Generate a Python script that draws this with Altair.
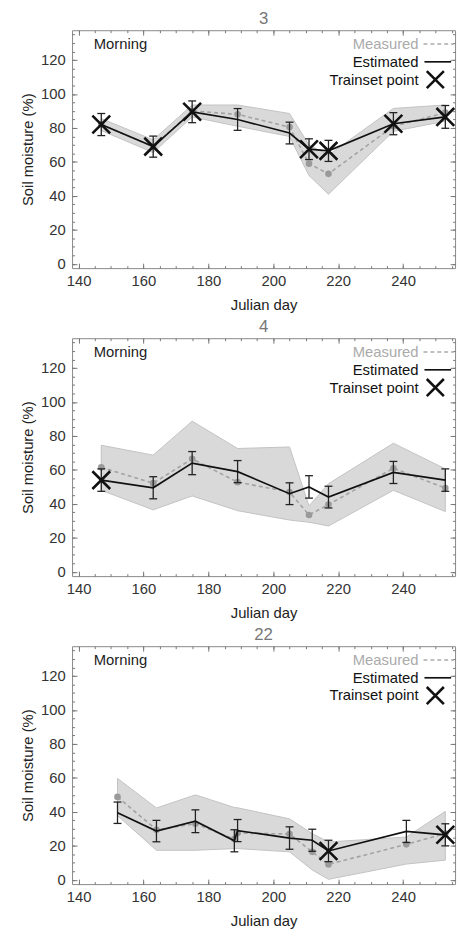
import altair as alt
import pandas as pd

# ---------------- data ----------------
sites = ["3", "4", "22"]

days_3 = [147, 163, 175, 189, 205, 211, 217, 237, 253]
meas_3 = [82, 69, 90, 88, 80.5, 59, 53, 81, 89]
est_3 = [82, 69, 89.5, 85, 77, 67.5, 66.5, 82.5, 86.5]
err_3 = [6.5, 6.2, 6.4, 6.4, 6.4, 6.1, 6.2, 6.5, 6.7]
lo_3 = [78.5, 65.5, 86.5, 81, 75, 52, 41, 78, 84]
hi_3 = [85.5, 73, 93.5, 93.5, 88.5, 70, 64, 91.5, 93.5]
train_3 = [1, 1, 1, 0, 0, 1, 1, 1, 1]

days_4 = [147, 163, 175, 189, 205, 211, 217, 237, 253]
meas_4 = [61.5, 52.2, 66.5, 52.8, 47, 33.5, 39.6, 61, 49.3]
est_4 = [54, 49.5, 64, 59, 46, 50, 44, 58.5, 54]
err_4 = [6.6, 6.5, 6.8, 6.5, 6.4, 6.6, 6.4, 6.5, 6.6]
lo_4 = [48, 36.5, 44.7, 36, 30.5, 29.2, 27, 48, 35.5]
hi_4 = [74.5, 68.7, 88.7, 72.6, 73.5, 38.8, 51.9, 75.7, 60.6]
train_4 = [1, 0, 0, 0, 0, 0, 0, 0, 0]

days_22 = [152, 164, 176, 188, 189, 205, 212, 217, 241, 253]
meas_22 = [48.8, 29.5, 33, 24, 27.5, 27, 16.5, 9.1, 20.9, 27.3]
est_22 = [39.5, 28.7, 34.5, 23, 29, 24.6, 23.3, 17, 28.5, 26.5]
err_22 = [6.3, 6.3, 6.7, 6.5, 6.5, 6.6, 6.5, 6.3, 6.5, 6.5]
lo_22 = [37.8, 17.4, 17.4, 18.4, 18.4, 16.5, 5.8, 0.3, 9.3, 11.6]
hi_22 = [59.7, 42.3, 50, 42.6, 42.4, 35.9, 27.2, 22.3, 25.2, 40.3]
train_22 = [0, 0, 0, 0, 0, 0, 0, 1, 0, 1]

x_ticks = [140, 160, 180, 200, 220, 240]
x_minor = list(range(140, 256, 5))
y_ticks = [0, 20, 40, 60, 80, 100, 120]
y_minor = list(range(0, 136, 5))
legend_labels = ["Measured", "Estimated", "Trainset point"]
period_label = "Morning"

# ---------------- styling ----------------
XDOM = [138, 256]
YDOM = [-2.5, 137.5]
W, H = 388, 241
X_PATH = "M-1,-1L1,1M-1,1L1,-1"
FONT = "Liberation Sans"
TICK = "#777"


def tick_axis(orient, values, size):
    return alt.Axis(
        orient=orient, values=values, offset=-size, tickSize=size, domain=False,
        grid=False, labels=False, title="", tickColor=TICK, tickWidth=1,
    )


def panel(name, days, meas, est, err, lo, hi, train):
    df = pd.DataFrame({
        "day": days, "meas": meas, "est": est, "lo": lo, "hi": hi,
        "elo": [e - r for e, r in zip(est, err)],
        "ehi": [e + r for e, r in zip(est, err)],
        "train": train,
    })
    base = alt.Chart(df)
    xscale = alt.Scale(domain=XDOM, nice=False, zero=False)
    yscale = alt.Scale(domain=YDOM, nice=False, zero=False)
    xaxis = alt.Axis(
        values=x_ticks, title="Julian day", offset=-5, tickSize=5,
        domain=False, grid=False, labelPadding=6, titlePadding=9,
        labelFontSize=15, titleFontSize=15, labelColor="#333",
        titleColor="#222", titleFontWeight="normal", tickColor=TICK,
        labelFont=FONT, titleFont=FONT,
    )
    yaxis = alt.Axis(
        values=y_ticks, title="Soil moisture (%)", offset=-5, tickSize=5,
        domain=False, grid=False, labelPadding=7, titlePadding=5,
        labelFontSize=15, titleFontSize=15, labelColor="#333",
        titleColor="#222", titleFontWeight="normal", tickColor=TICK,
        labelFont=FONT, titleFont=FONT,
    )

    band = base.mark_area(color="#d9d9d9", stroke="#c2c2c2", strokeWidth=1, opacity=1).encode(
        x=alt.X("day:Q", scale=xscale, axis=xaxis),
        y=alt.Y("lo:Q", scale=yscale, axis=yaxis), y2="hi:Q"
    )
    mline = base.mark_line(color="#a3a3a3", strokeDash=[4, 3], strokeWidth=1.6).encode(
        x="day:Q", y="meas:Q"
    )
    mdots = base.mark_circle(color="#9a9a9a", size=45, opacity=1).encode(x="day:Q", y="meas:Q")
    ebar = base.mark_rule(color="#222", strokeWidth=1.3).encode(x="day:Q", y="elo:Q", y2="ehi:Q")
    ecap_hi = base.mark_rule(color="#222", strokeWidth=1.3, xOffset=-4, x2Offset=4).encode(
        x="day:Q", x2="day:Q", y="ehi:Q"
    )
    ecap_lo = base.mark_rule(color="#222", strokeWidth=1.3, xOffset=-4, x2Offset=4).encode(
        x="day:Q", x2="day:Q", y="elo:Q"
    )
    eline = base.mark_line(color="#111", strokeWidth=1.7).encode(x="day:Q", y="est:Q")
    xpts = base.transform_filter("datum.train == 1").mark_point(
        shape=X_PATH, size=324, strokeWidth=2.6, color="#111", filled=False, opacity=1
    ).encode(x="day:Q", y="est:Q")

    one = alt.Chart(pd.DataFrame({"k": [0]}))
    lg_meas = one.mark_text(align="right", baseline="middle", fontSize=15, font=FONT, color="#aaaaaa").encode(
        x=alt.value(351), y=alt.value(14), text=alt.value(legend_labels[0]))
    lg_est = one.mark_text(align="right", baseline="middle", fontSize=15, font=FONT, color="#111").encode(
        x=alt.value(351), y=alt.value(32), text=alt.value(legend_labels[1]))
    lg_tr = one.mark_text(align="right", baseline="middle", fontSize=15, font=FONT, color="#111").encode(
        x=alt.value(351), y=alt.value(50), text=alt.value(legend_labels[2]))
    lg_mline = one.mark_rule(color="#aaaaaa", strokeDash=[4, 3], strokeWidth=1.5).encode(
        x=alt.value(356), x2=alt.value(387), y=alt.value(14))
    lg_eline = one.mark_rule(color="#111", strokeWidth=1.7).encode(
        x=alt.value(357), x2=alt.value(384), y=alt.value(32))
    lg_x = one.mark_point(shape=X_PATH, size=300, strokeWidth=2.6, color="#111", filled=False, opacity=1).encode(
        x=alt.value(368), y=alt.value(50))
    morning = one.mark_text(align="left", baseline="middle", fontSize=15, font=FONT, color="#222").encode(
        x=alt.value(22), y=alt.value(14), text=alt.value(period_label))

    data_layer = alt.layer(
        band, mline, mdots, ebar, ecap_hi, ecap_lo, eline, xpts,
        lg_meas, lg_est, lg_tr, lg_mline, lg_eline, lg_x, morning,
    )

    def ticks_layer(xo, xv, yo, yv, size):
        return base.mark_point(opacity=0).encode(
            x=alt.X("day:Q", scale=xscale, axis=tick_axis(xo, xv, size)),
            y=alt.Y("est:Q", scale=yscale, axis=tick_axis(yo, yv, size)),
        )

    t_major = ticks_layer("top", x_ticks, "right", y_ticks, 5)
    t_minor1 = ticks_layer("bottom", x_minor, "left", y_minor, 2.5)
    t_minor2 = ticks_layer("top", x_minor, "right", y_minor, 2.5)

    return alt.layer(data_layer, t_major, t_minor1, t_minor2).resolve_axis(
        x="independent", y="independent"
    ).properties(
        width=W, height=H,
        title=alt.Title(name, fontSize=17, color="#777", font=FONT, fontWeight="normal", offset=1.5),
    )


p1 = panel(sites[0], days_3, meas_3, est_3, err_3, lo_3, hi_3, train_3)
p2 = panel(sites[1], days_4, meas_4, est_4, err_4, lo_4, hi_4, train_4)
p3 = panel(sites[2], days_22, meas_22, est_22, err_22, lo_22, hi_22, train_22)

chart = alt.vconcat(p1, p2, p3, spacing=71, bounds="flush").properties(
    padding={"left": 20, "top": 3.5, "right": 0, "bottom": 5}
).configure(font=FONT).configure_view(stroke="#888", strokeWidth=1)

chart.save("out.html", embed_options={"renderer": "svg", "actions": False})
